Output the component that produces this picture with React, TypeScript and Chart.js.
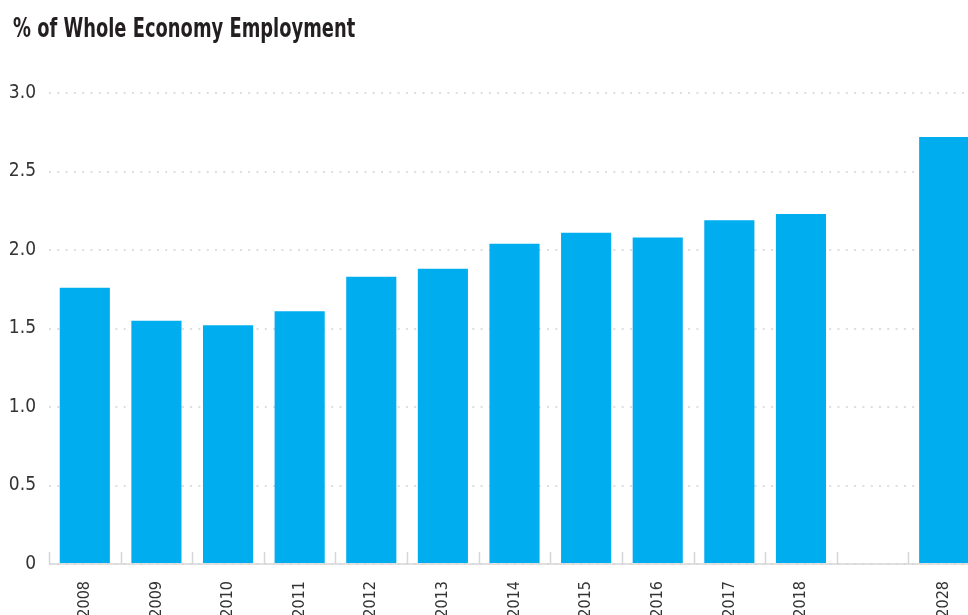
import React, { useEffect, useRef } from "react";
import { Chart, registerables } from "chart.js";

Chart.register(...registerables);

const TITLE = "% of Whole Economy Employment";
const years = ["2008", "2009", "2010", "2011", "2012", "2013", "2014", "2015", "2016", "2017", "2018", "", "2028"];
const shares: (number | null)[] = [1.76, 1.55, 1.52, 1.61, 1.83, 1.88, 2.04, 2.11, 2.08, 2.19, 2.23, null, 2.72];
const yMin = 0;
const yMax = 3.0;
const yStep = 0.5;

const FONT = "'DejaVu Sans Condensed', 'Liberation Sans Narrow', sans-serif";
const BAR = "#00AEEF";

const titlePlugin = {
  id: "condensedTitle",
  afterDraw(chart: any) {
    const { ctx } = chart;
    ctx.save();
    ctx.font = `bold 26px ${FONT}`;
    ctx.fillStyle = "#231f20";
    ctx.textAlign = "left";
    ctx.textBaseline = "alphabetic";
    ctx.translate(13, 37);
    ctx.scale(0.765, 1);
    ctx.fillText(TITLE, 0, 0);
    ctx.restore();
  },
};

const axisPlugin = {
  id: "innerTicks",
  afterDatasetsDraw(chart: any) {
    const { ctx, chartArea, scales } = chart;
    const x = scales.x;
    const y = scales.y;
    const base = y.getPixelForValue(0);
    ctx.save();
    ctx.strokeStyle = "#d6d6d6";
    ctx.lineWidth = 1.5;
    ctx.beginPath();
    ctx.moveTo(chartArea.left, base);
    ctx.lineTo(chartArea.right, base);
    const n = x.ticks.length;
    const w = (x.right - x.left) / n;
    for (let i = 0; i <= n; i++) {
      const px = Math.round(x.left + i * w) + 0.5;
      ctx.moveTo(px, base);
      ctx.lineTo(px, base - 12);
    }
    ctx.stroke();
    ctx.restore();
  },
};

export default function App() {
  const ref = useRef<HTMLCanvasElement | null>(null);
  useEffect(() => {
    if (!ref.current) return;
    const chart = new Chart(ref.current, {
      type: "bar",
      data: {
        labels: years,
        datasets: [
          {
            data: shares,
            backgroundColor: BAR,
            borderWidth: 0,
            categoryPercentage: 1,
            barPercentage: 0.7,
          },
        ],
      },
      options: {
        animation: false,
        responsive: false,
        maintainAspectRatio: false,
        layout: { padding: { left: 0, right: 10, top: 93, bottom: 0 } },
        plugins: {
          legend: { display: false },
          tooltip: { enabled: false },
          title: { display: false },
        },
        scales: {
          x: {
            offset: true,
            grid: { display: false },
            border: { display: false },
            ticks: {
              minRotation: 90,
              maxRotation: 90,
              autoSkip: false,
              padding: 9,
              color: "#333333",
              font: { family: FONT, size: 16 },
            },
            afterFit(scale: any) {
              scale.height = 51;
            },
          },
          y: {
            min: yMin,
            max: yMax,
            border: { display: false, dash: [2, 6.3] },
            grid: {
              color: "#dedede",
              lineWidth: 2,
              drawTicks: false,
            },
            ticks: {
              stepSize: yStep,
              padding: 13,
              color: "#333333",
              font: { family: FONT, size: 19 },
              callback: (v: any) => (Number(v) === 0 ? "0" : Number(v).toFixed(1)),
            },
            afterFit(scale: any) {
              scale.width = 49;
            },
          },
        },
      },
      plugins: [axisPlugin, titlePlugin],
    });
    return () => chart.destroy();
  }, []);
  return (
    <div style={{ position: "fixed", left: 0, top: 0, width: 968, height: 615, overflow: "hidden", background: "#fff" }}>
      <div style={{ position: "absolute", left: 0, top: 0, width: 990, height: 615 }}>
        <canvas ref={ref} width={990} height={615} style={{ width: 990, height: 615, display: "block" }} />
      </div>
    </div>
  );
}
